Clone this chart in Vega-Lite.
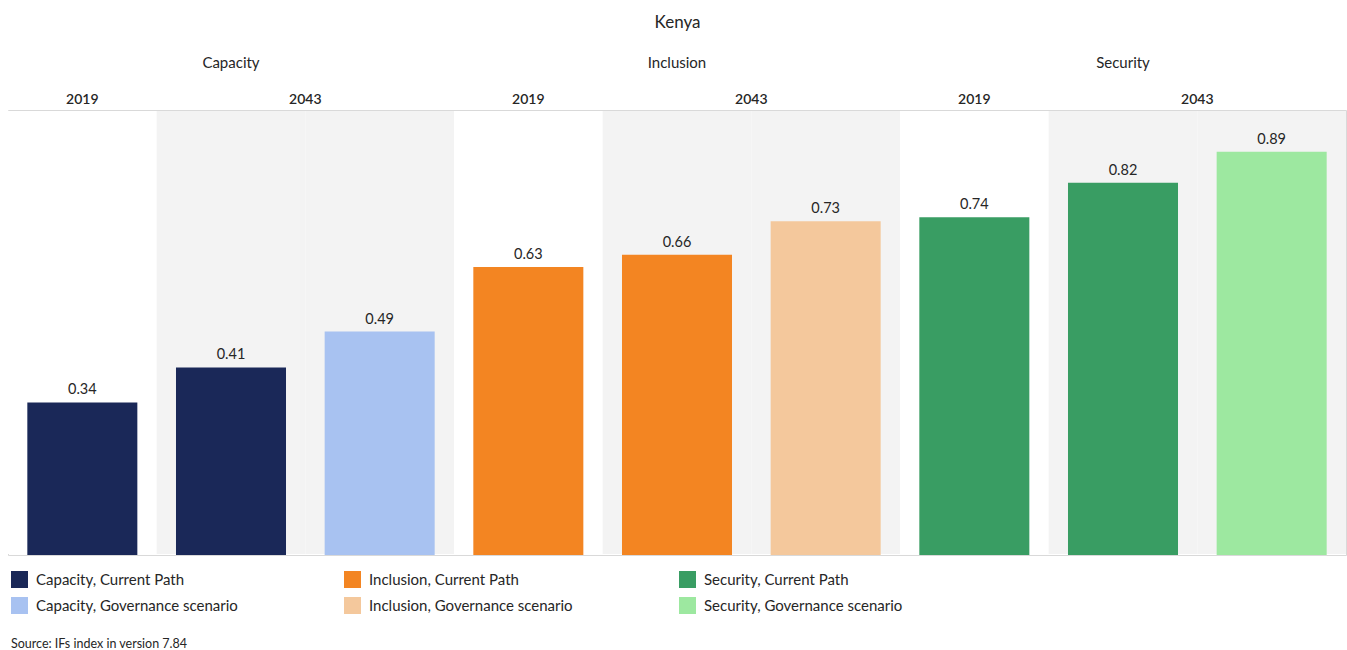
{
  "$schema": "https://vega.github.io/schema/vega-lite/v6.json",
  "width": 1338,
  "height": 445,
  "autosize": {"type": "none"},
  "padding": {"left": 8, "top": 110, "right": 1, "bottom": 95},
  "background": "white",
  "config": {
    "font": "Lato",
    "view": {"stroke": "#d9d9d9", "strokeWidth": 1}
  },
  "title": {
    "text": "Source: IFs index in version 7.84",
    "orient": "bottom",
    "anchor": "start",
    "fontSize": 12.5,
    "fontWeight": "normal",
    "color": "#262626",
    "offset": 24,
    "dx": 3
  },
  "data": {
    "values": [
      {"slot": "Capacity|2019|Current Path", "group": "Capacity", "year": "2019", "series": "Capacity, Current Path", "value": 0.336},
      {"slot": "Capacity|2043|Current Path", "group": "Capacity", "year": "2043", "series": "Capacity, Current Path", "value": 0.413},
      {"slot": "Capacity|2043|Governance scenario", "group": "Capacity", "year": "2043", "series": "Capacity, Governance scenario", "value": 0.492},
      {"slot": "Inclusion|2019|Current Path", "group": "Inclusion", "year": "2019", "series": "Inclusion, Current Path", "value": 0.634},
      {"slot": "Inclusion|2043|Current Path", "group": "Inclusion", "year": "2043", "series": "Inclusion, Current Path", "value": 0.661},
      {"slot": "Inclusion|2043|Governance scenario", "group": "Inclusion", "year": "2043", "series": "Inclusion, Governance scenario", "value": 0.735},
      {"slot": "Security|2019|Current Path", "group": "Security", "year": "2019", "series": "Security, Current Path", "value": 0.744},
      {"slot": "Security|2043|Current Path", "group": "Security", "year": "2043", "series": "Security, Current Path", "value": 0.82},
      {"slot": "Security|2043|Governance scenario", "group": "Security", "year": "2043", "series": "Security, Governance scenario", "value": 0.888}
    ]
  },
  "resolve": {"axis": {"x": "independent"}},
  "layer": [
    {
      "mark": {"type": "bar", "width": {"band": 1}},
      "encoding": {
        "x": {
          "field": "slot",
          "type": "nominal",
          "sort": null,
          "scale": {"paddingInner": 0, "paddingOuter": 0},
          "axis": {
            "orient": "top",
            "title": null,
            "domain": false,
            "ticks": false,
            "tickSize": 0,
            "labelAngle": 0,
            "labelPadding": 4,
            "labelFontSize": 14,
            "labelFontWeight": 600,
            "labelColor": "#262626",
            "labelExpr": "indexof(datum.value, '2019') >= 0 ? '2019' : (indexof(datum.value, '2043|Current') >= 0 ? '2043' : '')",
            "labelOffset": {"condition": {"test": "indexof(datum.value, '2043|Current') >= 0", "value": 74.3}, "value": 0},
            "labelOverlap": false
          }
        },
        "y": {"datum": 0.978, "type": "quantitative", "scale": {"domain": [0, 0.98], "nice": false, "zero": true}, "axis": null},
        "y2": {"datum": 0.002},
        "color": {"condition": {"test": "datum.year == '2043'", "value": "#f3f3f3"}, "value": "#ffffff"}
      }
    },
    {
      "mark": {"type": "bar", "width": {"band": 0.74}},
      "encoding": {
        "x": {
          "field": "slot",
          "type": "nominal",
          "sort": null,
          "axis": {
            "orient": "top",
            "offset": 36,
            "title": "Kenya",
            "titleFontSize": 17,
            "titleFontWeight": "normal",
            "titleColor": "#262626",
            "titlePadding": 24,
            "domain": false,
            "ticks": false,
            "tickSize": 0,
            "labelAngle": 0,
            "labelPadding": 4,
            "labelFontSize": 15,
            "labelColor": "#262626",
            "labelExpr": "indexof(datum.value, '2043|Current') >= 0 ? split(datum.value, '|')[0] : ''",
            "labelOverlap": false
          }
        },
        "y": {"field": "value", "type": "quantitative"},
        "color": {
          "field": "series",
          "type": "nominal",
          "scale": {
            "domain": ["Capacity, Current Path", "Inclusion, Current Path", "Security, Current Path", "Capacity, Governance scenario", "Inclusion, Governance scenario", "Security, Governance scenario"],
            "range": ["#1a2858", "#f38522", "#399d63", "#a8c2f1", "#f4c89c", "#9de8a0"]
          },
          "legend": {
            "title": null,
            "orient": "none",
            "legendX": 3,
            "legendY": 461,
            "direction": "horizontal",
            "columns": 3,
            "columnPadding": 106,
            "rowPadding": 9,
            "symbolType": "square",
            "symbolSize": 289,
            "symbolStrokeWidth": 0,
            "labelFontSize": 15,
            "labelColor": "#262626",
            "labelLimit": 400,
            "labelOffset": 8
          }
        }
      }
    },
    {
      "mark": {"type": "text", "baseline": "bottom", "dy": -5, "fontSize": 14.5, "color": "#262626"},
      "encoding": {
        "x": {"field": "slot", "type": "nominal", "sort": null, "axis": null},
        "y": {"field": "value", "type": "quantitative"},
        "text": {"field": "value", "type": "quantitative", "format": ".2f"}
      }
    }
  ]
}
